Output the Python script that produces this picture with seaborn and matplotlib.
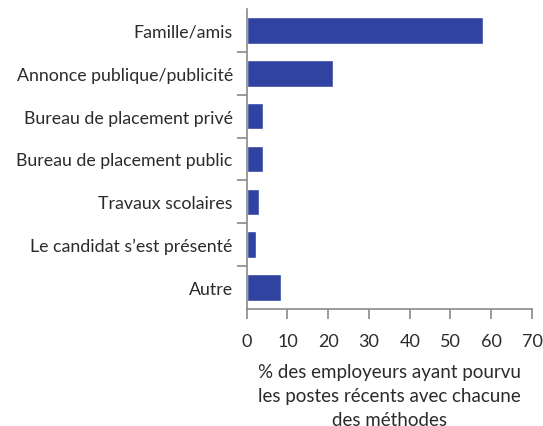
import matplotlib
matplotlib.use("Agg")
import matplotlib.pyplot as plt
import seaborn as sns
import pandas as pd
import numpy as np
from matplotlib.ticker import FixedLocator

categories = ["Famille/amis", "Annonce publique/publicité", "Bureau de placement privé",
              "Bureau de placement public", "Travaux scolaires", "Le candidat s\u2019est présenté", "Autre"]
values = [58.0, 21.1, 3.9, 3.9, 2.9, 2.2, 8.3]
xticks = [0, 10, 20, 30, 40, 50, 60, 70]
xlabel = "% des employeurs ayant pourvu\nles postes récents avec chacune\ndes méthodes"

sns.set_style("white")
plt.rcParams['font.family'] = ['Lato', 'DejaVu Sans']

df = pd.DataFrame({"cat": categories, "val": values})
fig = plt.figure(figsize=(5.43, 4.27), dpi=100)
ax = fig.add_axes([0.4543, 0.274, 0.9797 - 0.4543, 0.9766 - 0.274])
sns.barplot(data=df, x="val", y="cat", color="#3043a0", saturation=1, width=0.62, ax=ax, orient="h")

axis_col = "#8a8a8a"
text_col = "#2b2b2b"
ax.set_xlim(0, 70)
ax.set_ylim(len(categories) - 0.5, -0.5)
ax.set_xticks(xticks)
ax.set_xticklabels([str(t) for t in xticks], fontsize=13, color=text_col)
ax.tick_params(axis="x", bottom=True, direction="out", length=7, width=1.2, color=axis_col, pad=10)
ax.tick_params(axis="y", which="major", left=True, length=0, pad=10, labelsize=12.8, labelcolor=text_col)
ax.yaxis.set_minor_locator(FixedLocator(np.arange(0.5, len(categories) - 0.5, 1)))
ax.tick_params(axis="y", which="minor", left=True, direction="out", length=7, width=1.2, color=axis_col)
for s in ["top", "right"]:
    ax.spines[s].set_visible(False)
for s in ["left", "bottom"]:
    ax.spines[s].set_color(axis_col)
    ax.spines[s].set_linewidth(1.2)
ax.set_ylabel("")
ax.set_xlabel(xlabel, fontsize=13.5, color=text_col, linespacing=1.5, labelpad=10)

fig.savefig("out.png", dpi=100)
